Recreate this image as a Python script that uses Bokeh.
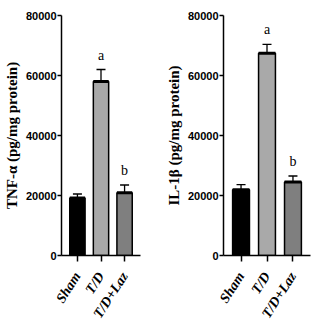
from bokeh.plotting import figure
from bokeh.layouts import row
from bokeh.models import ColumnDataSource, Range1d, FactorRange, FixedTicker, Whisker, TeeHead
from bokeh.embed import file_html
from bokeh.resources import INLINE
from bokeh.core.properties import value

groups = ["Sham", "T/D", "T/D+Laz"]
colors = ["#000000", "#a9a9a9", "#7f7f7f"]
tnf_mean = [19200, 58000, 20900]
tnf_sem = [1300, 4000, 2600]
il_mean = [21900, 67400, 24500]
il_sem = [1700, 3000, 2000]
letters = ["", "a", "b"]
y_ticks = [0, 20000, 40000, 60000, 80000]


def panel(means, sems, title, left, right):
    src = ColumnDataSource(dict(
        x=groups, top=means, upper=[m + s for m, s in zip(means, sems)],
        color=colors, letter=letters))
    p = figure(width=156, height=327, x_range=FactorRange(*groups, range_padding=0.117),
               y_range=Range1d(0, 80000), output_backend="svg", toolbar_location=None,
               min_border_left=left, min_border_right=right, min_border_top=15,
               min_border_bottom=71)
    p.outline_line_color = None
    p.grid.visible = False
    p.background_fill_color = "white"
    p.border_fill_color = "white"

    p.vbar(x="x", top="top", width=0.65, source=src, fill_color="color",
           line_color="black", line_width=1.5)
    p.rect(x="x", y="top", width=0.65, height=3, height_units="screen", source=src,
           fill_color="black", line_color=None)
    w = Whisker(base="x", lower="top", upper="upper", source=src,
                line_color="black", line_width=1.3,
                upper_head=TeeHead(size=9, line_color="black", line_width=1.3),
                lower_head=None)
    p.add_layout(w)
    p.text(x="x", y="upper", text="letter", source=src, y_offset=-7,
           text_align="center", text_baseline="bottom",
           text_font=value("Liberation Serif"), text_font_size="14px", text_color="black")

    yax = p.yaxis[0]
    yax.ticker = FixedTicker(ticks=y_ticks)
    yax.minor_tick_line_color = None
    yax.major_tick_in = 0
    yax.major_tick_out = 4
    yax.axis_line_width = 1.5
    yax.major_tick_line_width = 1.5
    yax.major_label_text_font = "Liberation Sans"
    yax.major_label_text_font_style = "bold"
    yax.major_label_text_font_size = "11px"
    yax.major_label_text_color = "black"
    yax.major_label_standoff = 1
    yax.axis_label = title
    yax.axis_label_text_font = "Liberation Serif"
    yax.axis_label_text_font_style = "bold"
    yax.axis_label_text_font_size = "15px"
    yax.axis_label_text_color = "black"
    yax.axis_label_standoff = 3

    xax = p.xaxis[0]
    xax.major_tick_in = 0
    xax.major_tick_out = 6
    xax.axis_line_width = 1.5
    xax.major_tick_line_width = 1.5
    xax.major_label_orientation = 1.0
    xax.major_label_text_font = "Liberation Serif"
    xax.major_label_text_font_style = "bold italic"
    xax.major_label_text_font_size = "14px"
    xax.major_label_text_color = "black"
    xax.major_label_standoff = 12
    return p


p1 = panel(tnf_mean, tnf_sem, "TNF-α (pg/mg protein)", 53, 16)
p2 = panel(il_mean, il_sem, "IL-1β (pg/mg protein)", 67, 2)
layout = row(p1, p2, spacing=0)

open("out.html", "w").write(file_html(layout, INLINE))
